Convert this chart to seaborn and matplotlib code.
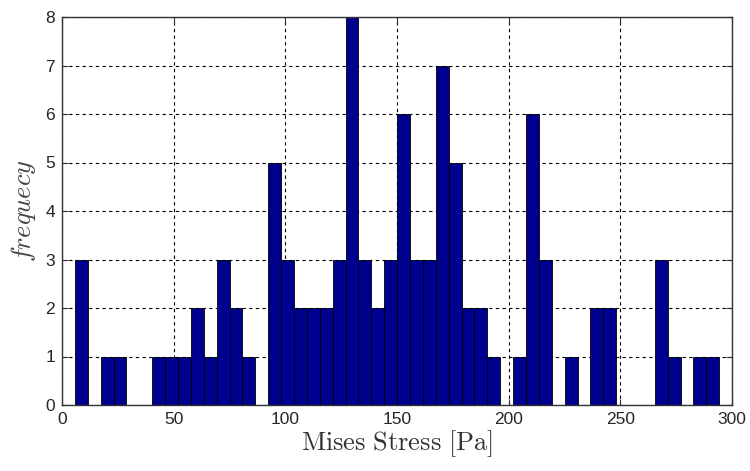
import numpy as np
import pandas as pd
import matplotlib
matplotlib.use("Agg")
import matplotlib.pyplot as plt
import seaborn as sns

# Histogram of Mises stress: 50 equal bins spanning the data range
stress_min = 5.8
stress_max = 294.3
n_bins = 50
counts = [3, 0, 1, 1, 0, 0, 1, 1, 1, 2,
          1, 3, 2, 1, 0, 5, 3, 2, 2, 2,
          3, 8, 3, 2, 3, 6, 3, 3, 7, 5,
          2, 2, 1, 0, 1, 6, 3, 0, 1, 0,
          2, 2, 0, 0, 0, 3, 1, 0, 1, 1]
x_ticks = [0, 50, 100, 150, 200, 250, 300]
y_ticks = [0, 1, 2, 3, 4, 5, 6, 7, 8]

edges = np.linspace(stress_min, stress_max, n_bins + 1)
df = pd.DataFrame({'stress': (edges[:-1] + edges[1:]) / 2,
                   'count': np.array(counts, dtype=float)})

sns.set_style("white")
plt.rcParams['font.family'] = ['Liberation Sans', 'DejaVu Sans']
plt.rcParams['mathtext.fontset'] = 'cm'

fig = plt.figure(figsize=(7.5, 4.71), dpi=100)
ax = fig.add_axes([62/750, 1-405/471, 670/750, 388/471])

sns.histplot(data=df, x='stress', weights='count', bins=n_bins,
             binrange=(stress_min, stress_max), ax=ax,
             color='#00008F', alpha=1.0, edgecolor='black', linewidth=0.6)

ax.set_xlim(0, 300)
ax.set_ylim(0, 8)
ax.set_xticks(x_ticks)
ax.set_yticks(y_ticks)
ax.set_axisbelow(True)
ax.grid(True, color='black', linestyle=(0, (3, 3)), linewidth=0.8)
for s in ax.spines.values():
    s.set_visible(True)
    s.set_color('#333333')
    s.set_linewidth(1.0)
ax.tick_params(direction='in', length=4, width=0.8, labelsize=12.5,
               colors='#333333', labelcolor='#262626',
               top=True, right=True, bottom=True, left=True, pad=5)
ax.set_xlabel(r'$\mathrm{Mises\ Stress\ [Pa]}$', fontsize=19, color='#333333', labelpad=1)
ax.set_ylabel(r'$frequecy$', fontsize=19, color='#444444', labelpad=5)

fig.savefig('out.png', dpi=100)
